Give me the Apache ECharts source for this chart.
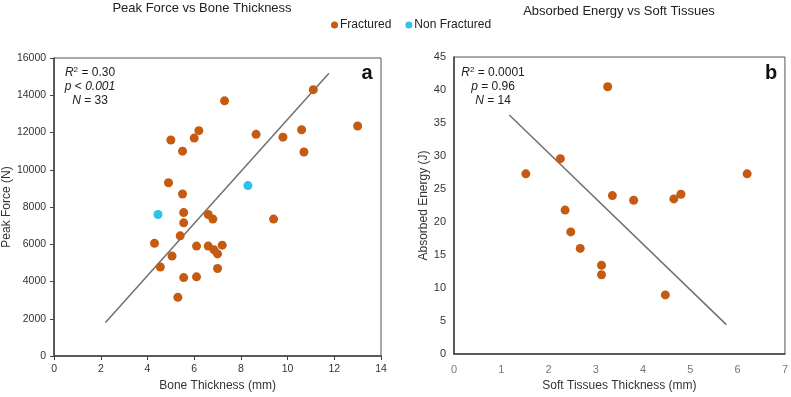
<!DOCTYPE html>
<html>
<head>
<meta charset="utf-8">
<script src="https://cdn.jsdelivr.net/npm/echarts@6/dist/echarts.min.js"></script>
<style>
  html, body { margin: 0; padding: 0; background: #fff; }
  #main { width: 791px; height: 397px; }
</style>
</head>
<body>
<div id="main"></div>
<script>
// panel a: bone thickness (mm) vs peak force (N)
var boneFractured = [
  [5.0, 11600], [5.5, 11000], [6.0, 11700], [6.2, 12100], [4.9, 9300], [5.5, 8700],
  [7.3, 13700], [11.1, 14300], [8.65, 11900], [9.8, 11750], [10.6, 12150], [13.0, 12350],
  [10.7, 10950], [5.55, 7700], [5.55, 7150], [6.6, 7600], [6.8, 7350], [5.4, 6450],
  [4.3, 6050], [6.1, 5900], [6.6, 5900], [6.85, 5700], [7.0, 5480], [7.2, 5950],
  [5.05, 5370], [4.55, 4780], [7.0, 4700], [5.55, 4210], [6.1, 4250], [5.3, 3150],
  [9.4, 7350]
];
var boneNonFractured = [[4.45, 7600], [8.3, 9150]];
var boneTrend = [[2.2, 1800], [11.77, 15180]];

// panel b: soft tissues thickness (mm) vs absorbed energy (J)
var softFractured = [
  [1.52, 27.3], [2.25, 29.6], [3.25, 40.5], [6.2, 27.3], [3.35, 24.0], [3.8, 23.3],
  [4.65, 23.5], [4.8, 24.2], [2.35, 21.8], [2.47, 18.5], [2.67, 16.0], [3.12, 13.45],
  [3.12, 12.0], [4.47, 8.95]
];
var softTrend = [[1.17, 36.2], [5.76, 4.45]];

var orange = '#C55A11';
var cyan = '#2EC3E8';
var font = 'Liberation Sans, Arial, sans-serif';

function axisStyle(extra) {
  var base = {
    axisLine: { show: true, lineStyle: { color: '#404040', width: 1.5 } },
    splitLine: { show: false },
    nameLocation: 'middle',
    nameTextStyle: { fontFamily: font, fontSize: 12, color: '#333' },
    axisLabel: { fontFamily: font, fontSize: 10.5, color: '#333' }
  };
  for (var k in extra) base[k] = extra[k];
  return base;
}

function rich() {
  return {
    R: { fontFamily: font, fontSize: 12, fontStyle: 'italic', color: '#222' },
    n: { fontFamily: font, fontSize: 12, color: '#222' },
    sup: { fontFamily: font, fontSize: 8, color: '#222', verticalAlign: 'top', padding: [0, 0, 5, 0] }
  };
}

var myChart = echarts.init(document.getElementById('main'));
var option = {
  animation: false,
  backgroundColor: '#fff',
  title: [
    { text: 'Peak Force vs Bone Thickness', left: 197, top: -3, textAlign: 'center',
      textStyle: { fontFamily: font, fontSize: 13, fontWeight: 'normal', color: '#222' } },
    { text: 'Absorbed Energy vs Soft Tissues', left: 614, top: 0, textAlign: 'center',
      textStyle: { fontFamily: font, fontSize: 13, fontWeight: 'normal', color: '#222' } }
  ],
  legend: {
    data: ['Fractured', 'Non Fractured'],
    left: 326, top: 14,
    icon: 'circle', itemWidth: 7, itemHeight: 7, itemGap: 14,
    textStyle: { fontFamily: font, fontSize: 12, color: '#222', padding: [0, 0, 0, -3] }
  },
  grid: [
    { left: 53, top: 58, width: 328, height: 300, show: true, borderColor: '#555', borderWidth: 1 },
    { left: 454, top: 57, width: 331, height: 300, show: true, borderColor: '#555', borderWidth: 1 }
  ],
  xAxis: [
    axisStyle({ gridIndex: 0, type: 'value', min: 0, max: 14, interval: 2,
      name: 'Bone Thickness (mm)', nameGap: 24,
      axisTick: { show: true, length: 4, lineStyle: { color: '#404040' } } }),
    axisStyle({ gridIndex: 1, type: 'value', min: 0, max: 7, interval: 1,
      name: 'Soft Tissues Thickness (mm)', nameGap: 26,
      axisTick: { show: false },
      axisLabel: { fontFamily: font, fontSize: 11, color: '#777', margin: 10 } })
  ],
  yAxis: [
    axisStyle({ gridIndex: 0, type: 'value', min: 0, max: 16000, interval: 2000,
      name: 'Peak Force (N)', nameGap: 29,
      axisTick: { show: true, length: 4, lineStyle: { color: '#404040' } },
      axisLabel: { fontFamily: font, fontSize: 10.5, color: '#333', formatter: function (v) { return String(v); } } }),
    axisStyle({ gridIndex: 1, type: 'value', min: 0, max: 45, interval: 5,
      name: 'Absorbed Energy (J)', nameGap: 24,
      axisTick: { show: false },
      axisLabel: { fontFamily: font, fontSize: 11, color: '#333' } })
  ],
  series: [
    { name: 'Fractured', type: 'scatter', xAxisIndex: 0, yAxisIndex: 0,
      data: boneFractured, symbolSize: 9, itemStyle: { color: orange, opacity: 1 } },
    { name: 'Non Fractured', type: 'scatter', xAxisIndex: 0, yAxisIndex: 0,
      data: boneNonFractured, symbolSize: 9, itemStyle: { color: cyan, opacity: 1 } },
    { name: 'trendA', type: 'line', xAxisIndex: 0, yAxisIndex: 0, data: boneTrend,
      showSymbol: false, lineStyle: { color: '#707070', width: 1.5 }, z: 1 },
    { name: 'Fractured', type: 'scatter', xAxisIndex: 1, yAxisIndex: 1,
      data: softFractured, symbolSize: 9, itemStyle: { color: orange, opacity: 1 } },
    { name: 'trendB', type: 'line', xAxisIndex: 1, yAxisIndex: 1, data: softTrend,
      showSymbol: false, lineStyle: { color: '#707070', width: 1.5 }, z: 1 }
  ],
  graphic: [
    { type: 'text', x: 90, y: 66,
      style: { text: '{R|R}{sup|2}{n| = 0.30}\n{R|p}{n| < }{R|0.001}\n{R|N}{n| = 33}',
        rich: rich(), align: 'center', lineHeight: 14, fill: '#222' } },
    { type: 'text', x: 493, y: 66,
      style: { text: '{R|R}{sup|2}{n| = 0.0001}\n{R|p}{n| = 0.96}\n{R|N}{n| = 14}',
        rich: rich(), align: 'center', lineHeight: 14, fill: '#222' } },
    { type: 'text', x: 367, y: 73,
      style: { text: 'a', font: 'bold 20px ' + font, fill: '#111', align: 'center', verticalAlign: 'middle' } },
    { type: 'text', x: 771, y: 73,
      style: { text: 'b', font: 'bold 20px ' + font, fill: '#111', align: 'center', verticalAlign: 'middle' } }
  ]
};
myChart.setOption(option);
</script>
</body>
</html>
